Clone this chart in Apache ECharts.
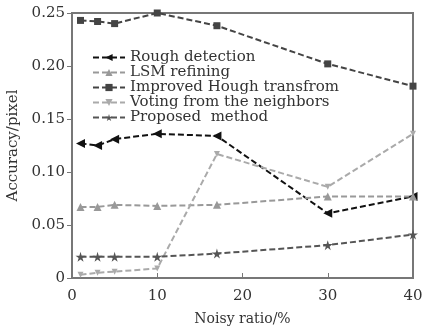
<!DOCTYPE html>
<html><head><meta charset="utf-8">
<script src="https://cdn.jsdelivr.net/npm/echarts@6/dist/echarts.min.js"></script>
<style>html,body{margin:0;padding:0;background:#fff}#c{width:422px;height:327px}</style>
</head><body><div id="c"></div>
<script>
const xValues = [1, 3, 5, 10, 17, 30, 40];
const seriesNames = ['Rough detection', 'LSM refining', 'Improved Hough transfrom', 'Voting from the neighbors', 'Proposed  method'];
const roughDetection = [0.127, 0.125, 0.131, 0.136, 0.134, 0.061, 0.077];
const lsmRefining = [0.067, 0.067, 0.069, 0.068, 0.069, 0.077, 0.077];
const improvedHough = [0.243, 0.242, 0.240, 0.250, 0.238, 0.202, 0.181];
const votingNeighbors = [0.003, 0.005, 0.006, 0.009, 0.117, 0.086, 0.136];
const proposedMethod = [0.020, 0.020, 0.020, 0.020, 0.023, 0.031, 0.041];
const xTicks = [0, 10, 20, 30, 40];
const yTicks = [0, 0.05, 0.10, 0.15, 0.20, 0.25];

const FONT = 'DejaVu Serif';
const STAR = 'path://M50,0 L61,35 L98,35 L68,57 L79,91 L50,70 L21,91 L32,57 L2,35 L39,35 Z';
function pairs(arr){ return xValues.map((x,i)=>[x,arr[i]]); }
function mk(name, data, color, symbol, size, rotate){
  return {
    name, type:'line', data: pairs(data), symbol, symbolSize:size, symbolRotate: rotate||0,
    itemStyle:{color}, lineStyle:{color, width:2, type:[6,3]}, animation:false
  };
}
const chart = echarts.init(document.getElementById('c'));
chart.setOption({
  animation:false,
  grid:{left:72, right:9, top:13, bottom:49, show:true, borderColor:'#777', borderWidth:2,
        outerBoundsMode:'none', containLabel:false},
  legend:{
    left:87, top:45, orient:'vertical', itemGap:0, itemWidth:32, itemHeight:9,
    textStyle:{fontFamily:FONT, fontSize:15, color:'#333', lineHeight:15},
    data: seriesNames
  },
  xAxis:{
    type:'value', min:xTicks[0], max:xTicks[xTicks.length-1], interval:10,
    name:'Noisy ratio/%', nameLocation:'middle', nameGap:34,
    nameTextStyle:{fontFamily:FONT, fontSize:14, color:'#333'},
    axisLine:{lineStyle:{color:'#777', width:2}},
    axisTick:{inside:true, length:5, lineStyle:{color:'#777'}},
    axisLabel:{fontFamily:FONT, fontSize:15, color:'#333', margin:11},
    splitLine:{show:false}
  },
  yAxis:{
    type:'value', min:yTicks[0], max:yTicks[yTicks.length-1], interval:0.05,
    name:'Accuracy/pixel', nameLocation:'middle', nameGap:51,
    nameTextStyle:{fontFamily:FONT, fontSize:15, color:'#333'},
    axisLine:{show:true, lineStyle:{color:'#777', width:2}},
    axisTick:{show:true, inside:false, length:5, lineStyle:{color:'#777'}},
    axisLabel:{fontFamily:FONT, fontSize:15, color:'#333', margin:7,
      formatter:v=> v===0 ? '0' : v.toFixed(2)},
    splitLine:{show:false}
  },
  series:[
    mk(seriesNames[0], roughDetection, '#111', 'triangle', 9, 90),
    mk(seriesNames[1], lsmRefining, '#999', 'triangle', 8),
    mk(seriesNames[2], improvedHough, '#444', 'rect', 7),
    mk(seriesNames[3], votingNeighbors, '#aaa', 'triangle', 6, 180),
    mk(seriesNames[4], proposedMethod, '#555', STAR, 10)
  ]
});
</script></body></html>
